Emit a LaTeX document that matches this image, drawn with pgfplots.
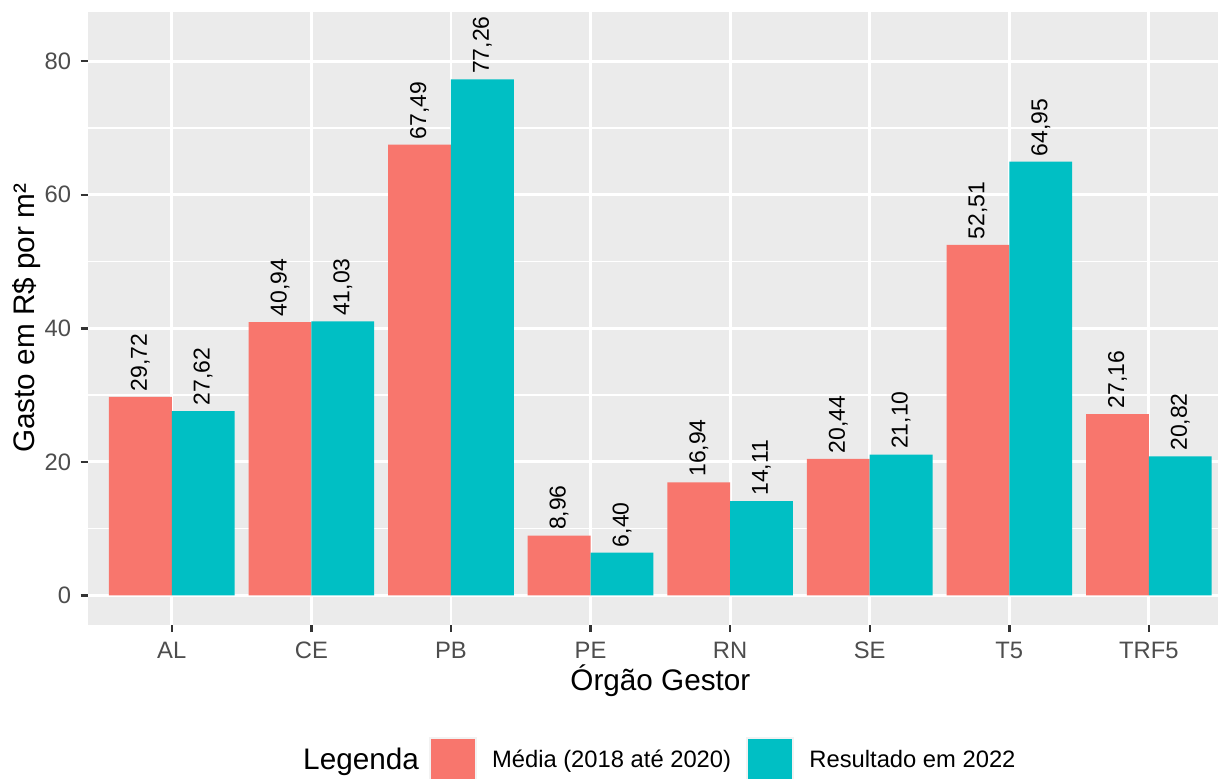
\documentclass[border=0pt]{standalone}
\usepackage{pgfplots}
\pgfplotsset{compat=1.18}
\usepackage{fontspec}
\setmainfont{Liberation Sans}

\definecolor{ggred}{HTML}{F8766D}
\definecolor{ggteal}{HTML}{00BFC4}
\definecolor{panelbg}{HTML}{EBEBEB}
\definecolor{ticktext}{HTML}{4D4D4D}
\definecolor{tickmark}{HTML}{333333}

\begin{document}
\begin{tikzpicture}
\useasboundingbox (-32.6pt,-57pt) rectangle (418.5pt,231.4pt);
\begin{axis}[
  scale only axis,
  width=418.5pt, height=227pt,
  xmin=0.4, xmax=8.495,
  ymin=-4.39, ymax=87.38,
  ybar, bar width=0.45,
  clip=false,
  axis background/.style={fill=panelbg},
  axis line style={draw=none},
  xtick={1,...,8},
  xticklabels={AL,CE,PB,PE,RN,SE,T5,TRF5},
  ytick={0,20,40,60,80},
  minor ytick={10,30,50,70},
  xmajorgrids, ymajorgrids, yminorgrids,
  major grid style={white, line width=1.07pt},
  minor grid style={white, line width=0.53pt},
  tick align=outside,
  xtick pos=left, ytick pos=left,
  major tick length=2.75pt, minor tick length=0pt,
  tick style={tickmark, line width=0.9pt},
  /pgf/number format/assume math mode=true,
  tick label style={font=\fontsize{8.8}{10}\selectfont, text=ticktext},
  xlabel={Órgão Gestor},
  ylabel={Gasto em R\$ por m²},
  label style={font=\fontsize{11}{13}\selectfont},
  xlabel style={at={(axis description cs:0.5065,-0.0913)}, anchor=center},
  ylabel style={at={(axis description cs:-0.054,0.5)}, anchor=center},
  nodes near coords={\pgfmathprintnumber[fixed,fixed zerofill,precision=2,use comma]{\pgfplotspointmeta}},
  every node near coord/.append style={font=\fontsize{8.5}{10}\selectfont, text=black,
    rotate=90, anchor=west, inner xsep=1.9pt, inner ysep=0pt},
  legend columns=3,
  legend style={at={(axis description cs:0.1766,-0.222)}, anchor=west,
    draw=none, fill=none, inner sep=0pt, font=\fontsize{8.8}{10}\selectfont,
    column sep=0pt, nodes={inner sep=0pt, anchor=west},
    /tikz/every odd column/.append style={column sep=5.6pt},
    /tikz/column 1/.append style={column sep=0pt},
    /tikz/column 2/.append style={column sep=3.6pt},
    /tikz/column 4/.append style={column sep=5.5pt}},
  legend image code/.code={
    \fill[black!5] (-0.8pt,-8.95pt) rectangle (17.1pt,8.95pt);
    \fill[#1, draw=none] (0pt,-8.15pt) rectangle (16.3pt,8.15pt);},
]

\addlegendimage{empty legend}
\addlegendentry{\fontsize{11}{13}\selectfont Legenda}

\addplot[fill=ggred, draw=none, bar shift=-0.225] coordinates {
  (1,29.72) (2,40.94) (3,67.49) (4,8.96) (5,16.94) (6,20.44) (7,52.51) (8,27.16)};
\addlegendentry{Média (2018 até 2020)}

\addplot[fill=ggteal, draw=none, bar shift=0.225] coordinates {
  (1,27.62) (2,41.03) (3,77.26) (4,6.40) (5,14.11) (6,21.10) (7,64.95) (8,20.82)};
\addlegendentry{Resultado em 2022}

\end{axis}
\end{tikzpicture}
\end{document}
